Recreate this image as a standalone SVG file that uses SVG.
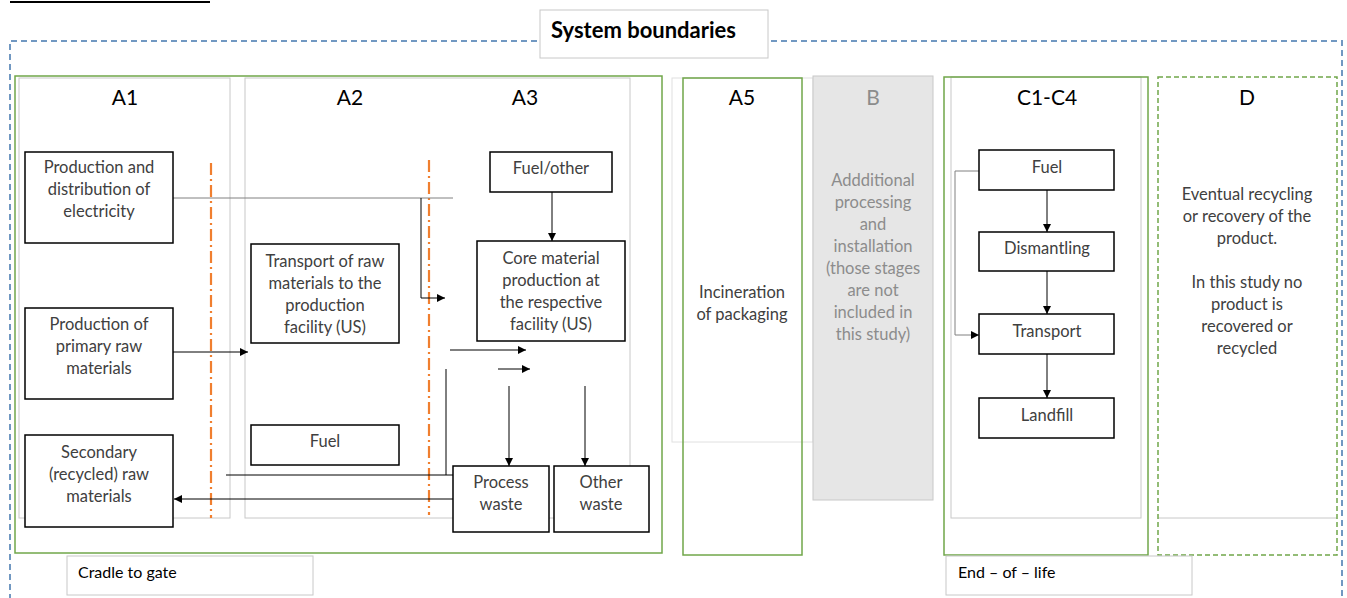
<svg xmlns="http://www.w3.org/2000/svg" width="1347" height="598" viewBox="0 0 1347 598">
<style>
text{font-family:Lato,"Liberation Sans",sans-serif}
.t{font-size:16.5px;fill:#404040;text-anchor:middle}
.h{font-size:21px;fill:#000;text-anchor:middle}
.box{fill:#fff;stroke:#000;stroke-width:1.5}
.col{fill:none;stroke:#c8c8c8;stroke-width:1}
.grn{fill:none;stroke:#70a74a;stroke-width:1.5}
.ln{fill:none;stroke:#000;stroke-width:1}
.gl{fill:none;stroke:#808080;stroke-width:1}
.or{fill:none;stroke:#f07f2f;stroke-width:2.2;stroke-dasharray:12 4 2 4}
.lab{fill:#fff;stroke:#c8c8c8;stroke-width:1}
</style>
<defs>
<marker id="ah" viewBox="0 0 10 10" refX="10" refY="5" markerWidth="8" markerHeight="8" markerUnits="userSpaceOnUse" orient="auto">
<path d="M0,0 L10,5 L0,10 z" fill="#000"/>
</marker>
</defs>
<rect width="1347" height="598" fill="#fff"/>
<line x1="10" y1="2" x2="210" y2="2" stroke="#000" stroke-width="2"/>
<g id="system-boundary">
<path d="M10,600 V41 H1342 V600" fill="none" stroke="#7198c2" stroke-width="2" stroke-dasharray="6 4"/>
<rect x="540" y="10" width="228" height="48" class="lab"/>
<text x="551" y="38" style="font-size:22px;font-weight:bold;fill:#000">System boundaries</text>
</g>
<g id="columns">
<rect x="19" y="78" width="211" height="440" class="col"/>
<rect x="245" y="78" width="385" height="440" class="col"/>
<rect x="672" y="78" width="141" height="364" fill="none" stroke="#e0e0e0" stroke-width="1"/>
<rect x="951" y="77" width="190" height="441" class="col"/>
<line x1="1158" y1="518" x2="1337" y2="518" stroke="#c8c8c8" stroke-width="1"/>
</g>
<g id="A1-A3">
<rect x="15" y="76" width="647" height="477" class="grn"/>
<text x="125" y="105" class="h">A1</text>
<text x="350" y="105" class="h">A2</text>
<text x="525" y="105" class="h">A3</text>
</g>
<g id="orange-lines">
<line x1="211" y1="163" x2="211" y2="518" class="or"/>
<line x1="429" y1="160" x2="429" y2="515" class="or"/>
</g>
<g id="connectors">
<path d="M173,198 H453" class="gl"/>
<path d="M421,198 V298 H445" class="ln" marker-end="url(#ah)"/>
<path d="M173,352 H248" class="ln" marker-end="url(#ah)"/>
<path d="M450,350 H526" class="ln" marker-end="url(#ah)"/>
<path d="M498,369 H530" class="ln" marker-end="url(#ah)"/>
<path d="M446,369 V475" class="ln"/>
<path d="M226,475 H498" class="ln"/>
<path d="M453,499 H174" class="ln" marker-end="url(#ah)"/>
<path d="M509,386 V466" class="ln" marker-end="url(#ah)"/>
<path d="M585,386 V466" class="ln" marker-end="url(#ah)"/>
<path d="M552,192 V241" class="ln" marker-end="url(#ah)"/>
<path d="M1047,190 V232" class="ln" marker-end="url(#ah)"/>
<path d="M1047,271 V314" class="ln" marker-end="url(#ah)"/>
<path d="M1047,354 V398" class="ln" marker-end="url(#ah)"/>
<path d="M979,171 H955 V335 H979" class="gl" marker-end="url(#ah)"/>
</g>
<g id="electricity">
<rect x="25" y="152" width="148" height="91" class="box"/>
<text class="t"><tspan x="99" y="173">Production and</tspan><tspan x="99" y="195">distribution of</tspan><tspan x="99" y="217">electricity</tspan></text>
</g>
<g id="primary">
<rect x="25" y="308" width="148" height="91" class="box"/>
<text class="t"><tspan x="99" y="330">Production of</tspan><tspan x="99" y="352">primary raw</tspan><tspan x="99" y="374">materials</tspan></text>
</g>
<g id="secondary">
<rect x="25" y="435" width="148" height="92" class="box"/>
<text class="t"><tspan x="99" y="458">Secondary</tspan><tspan x="99" y="480">(recycled) raw</tspan><tspan x="99" y="502">materials</tspan></text>
</g>
<g id="transport-raw">
<rect x="251" y="244" width="148" height="99" class="box"/>
<text class="t"><tspan x="325" y="267">Transport of raw</tspan><tspan x="325" y="289">materials to the</tspan><tspan x="325" y="311">production</tspan><tspan x="325" y="333">facility (US)</tspan></text>
</g>
<g id="fuel-a2">
<rect x="251" y="425" width="148" height="40" class="box"/>
<text x="325" y="447" class="t">Fuel</text>
</g>
<g id="fuel-other">
<rect x="490" y="152" width="122" height="40" class="box"/>
<text x="551" y="174" class="t">Fuel/other</text>
</g>
<g id="core">
<rect x="477" y="241" width="148" height="100" class="box"/>
<text class="t"><tspan x="551" y="264">Core material</tspan><tspan x="551" y="286">production at</tspan><tspan x="551" y="308">the respective</tspan><tspan x="551" y="330">facility (US)</tspan></text>
</g>
<g id="process-waste">
<rect x="453" y="466" width="96" height="66" class="box"/>
<text class="t"><tspan x="501" y="488">Process</tspan><tspan x="501" y="510">waste</tspan></text>
</g>
<g id="other-waste">
<rect x="554" y="466" width="95" height="66" class="box"/>
<text class="t"><tspan x="601" y="488">Other</tspan><tspan x="601" y="510">waste</tspan></text>
</g>
<g id="A5">
<rect x="683" y="78" width="119" height="477" class="grn"/>
<text x="742" y="105" class="h">A5</text>
<text class="t"><tspan x="742" y="298">Incineration</tspan><tspan x="742" y="320">of packaging</tspan></text>
</g>
<g id="B">
<rect x="813" y="76" width="120" height="424" fill="#e6e6e6" stroke="#c8c8c8" stroke-width="1"/>
<text x="873" y="105" class="h" style="fill:#8c8c8c">B</text>
<text class="t" style="fill:#8c8c8c"><tspan x="873" y="186">Addditional</tspan><tspan x="873" y="208">processing</tspan><tspan x="873" y="230">and</tspan><tspan x="873" y="252">installation</tspan><tspan x="873" y="274">(those stages</tspan><tspan x="873" y="296">are not</tspan><tspan x="873" y="318">included in</tspan><tspan x="873" y="340">this study)</tspan></text>
</g>
<g id="C1-C4">
<rect x="944" y="77" width="204" height="478" class="grn"/>
<text x="1047" y="105" class="h">C1-C4</text>
</g>
<g id="c-fuel">
<rect x="979" y="150" width="135" height="40" class="box"/>
<text x="1047" y="173" class="t">Fuel</text>
</g>
<g id="dismantling">
<rect x="979" y="232" width="135" height="39" class="box"/>
<text x="1047" y="254" class="t">Dismantling</text>
</g>
<g id="transport">
<rect x="979" y="314" width="135" height="40" class="box"/>
<text x="1047" y="337" class="t">Transport</text>
</g>
<g id="landfill">
<rect x="979" y="398" width="135" height="40" class="box"/>
<text x="1047" y="421" class="t">Landfill</text>
</g>
<g id="D">
<rect x="1158" y="77" width="179" height="478" class="grn" stroke-dasharray="5 3"/>
<text x="1247" y="105" class="h">D</text>
<text class="t"><tspan x="1247" y="200">Eventual recycling</tspan><tspan x="1247" y="222">or recovery of the</tspan><tspan x="1247" y="244">product.</tspan><tspan x="1247" y="288">In this study no</tspan><tspan x="1247" y="310">product is</tspan><tspan x="1247" y="332">recovered or</tspan><tspan x="1247" y="354">recycled</tspan></text>
</g>
<g id="cradle-to-gate">
<rect x="67" y="556" width="246" height="39" class="lab"/>
<text x="78" y="578" style="font-size:16px;fill:#000">Cradle to gate</text>
</g>
<g id="end-of-life">
<rect x="946" y="556" width="246" height="39" class="lab"/>
<text x="958" y="578" style="font-size:16px;fill:#000">End – of – life</text>
</g>
</svg>
